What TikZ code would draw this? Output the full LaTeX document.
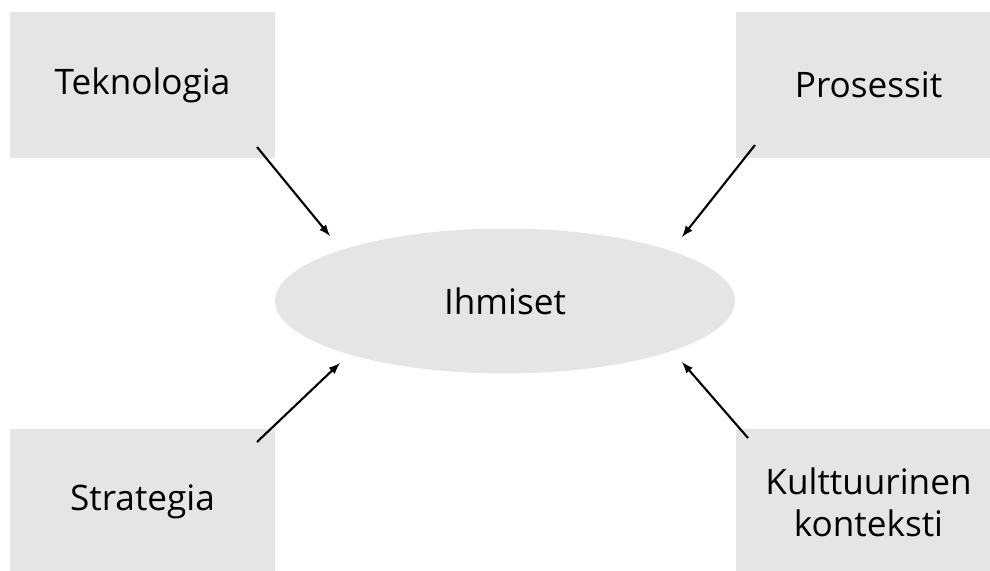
\documentclass[tikz,border=0pt]{standalone}
\usepackage{fontspec}
\setmainfont{Open Sans}
\usetikzlibrary{arrows,shapes,positioning}

\begin{document}
\begin{tikzpicture}[x=0.02cm,y=-0.02cm,>=latex]
\tikzstyle{factor}=[rectangle,fill=black!10,minimum width=5.3cm,minimum height=2.94cm,inner sep=0pt,font=\fontsize{20}{24}\selectfont,align=center]
\tikzstyle{core}=[ellipse,fill=black!10,minimum width=9.2cm,minimum height=2.9cm,inner sep=0pt,font=\fontsize{20}{24}\selectfont]
\tikzstyle{link}=[->,line width=1.2pt]
\useasboundingbox (0,0) rectangle (990,571);

\node[factor] (tek) at (142.5,85) {Teknologia};
\node[factor] (pro) at (868.5,85) {Prosessit};
\node[factor] (str) at (142.5,502) {Strategia};
\node[factor] (kul) at (868.5,502) {Kulttuurinen\\konteksti};
\node[core] (ihm) at (505,301) {Ihmiset};

\coordinate (tek-out) at (257,147);
\coordinate (pro-out) at (755,145);
\coordinate (str-out) at (257,442);
\coordinate (kul-out) at (748,438);
\coordinate (ihm-tl) at (330,236);
\coordinate (ihm-tr) at (682,237);
\coordinate (ihm-bl) at (340,363);
\coordinate (ihm-br) at (682,362);

\draw[link] (tek-out) to (ihm-tl);
\draw[link] (pro-out) to (ihm-tr);
\draw[link] (str-out) to (ihm-bl);
\draw[link] (kul-out) to (ihm-br);
\end{tikzpicture}
\end{document}
